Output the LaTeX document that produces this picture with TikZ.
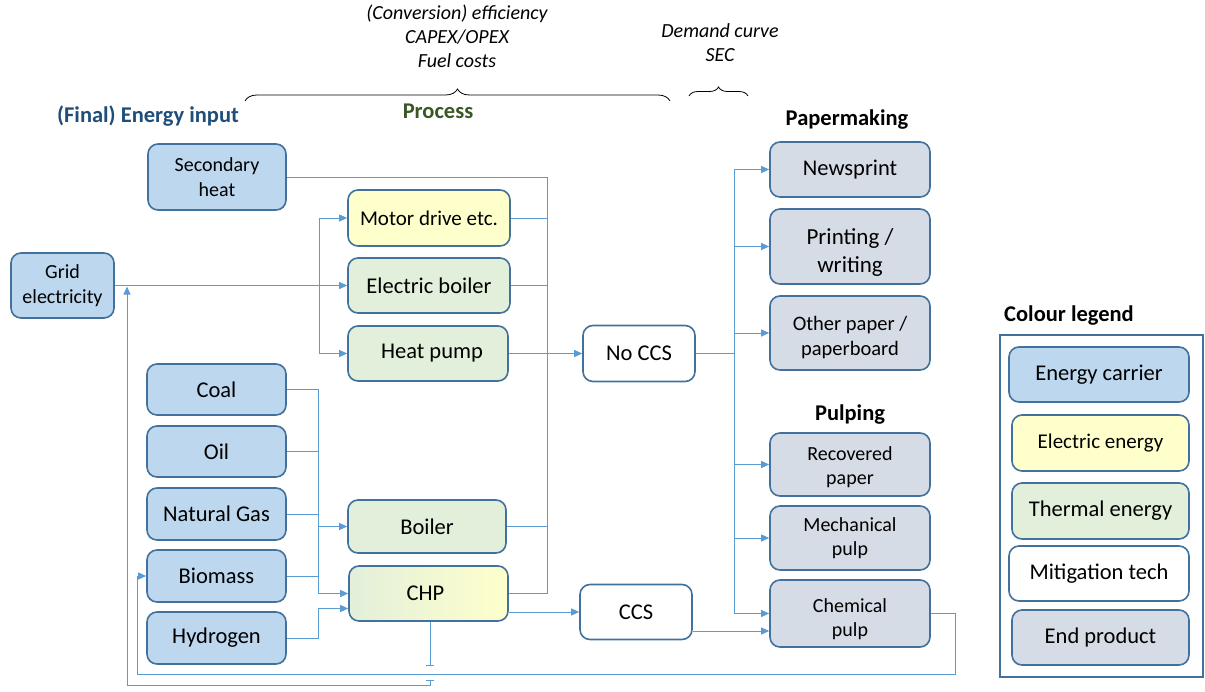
\documentclass[tikz,border=0pt]{standalone}
\usepackage{fontspec}
\setmainfont{Carlito}
\usetikzlibrary{arrows.meta,decorations.pathreplacing}

\definecolor{carrier}{HTML}{BDD7EE}
\definecolor{elec}{HTML}{FFFFCC}
\definecolor{therm}{HTML}{E2EFDA}
\definecolor{prod}{HTML}{D6DCE5}
\definecolor{edge}{HTML}{41719C}
\definecolor{flow}{HTML}{5B9BD5}
\definecolor{inputhd}{HTML}{1F4E79}
\definecolor{prochd}{HTML}{385723}

% strut that lowers the first line of a two-line label
\newcommand{\lowerby}[1]{\rule{0pt}{#1pt}}

\tikzset{
  box/.style={draw=edge, line width=1.6pt, rounded corners=10pt, align=center, inner sep=0pt},
  sz/.style 2 args={minimum width=#1pt, minimum height=#2pt},
  fbig/.style={font=\fontsize{22.5}{27}\selectfont},
  fmid/.style={font=\fontsize{21}{25}\selectfont},
  fsmall/.style={font=\fontsize{20}{24.5}\selectfont},
  carrierbox/.style={box, fill=carrier},
  elecbox/.style={box, fill=elec},
  thermbox/.style={box, fill=therm},
  mitbox/.style={box, fill=white},
  prodbox/.style={box, fill=prod},
  flowline/.style={draw=flow, line width=1pt},
  arr/.style={flowline, -{Triangle[length=8pt,width=7pt]}},
  heading/.style={font=\fontsize{22.5}{26}\selectfont\bfseries},
  note/.style={font=\fontsize{20}{24}\selectfont\itshape, align=center},
  bracket/.style={draw=black, line width=0.8pt, decorate}
}

\begin{document}
\begin{tikzpicture}[x=1pt, y=-1pt]
\useasboundingbox (0,0) rectangle (1205,691);

% headings and annotations
\node[heading, text=inputhd] (hinput) at (148,116) {(Final) Energy input};
\node[heading, text=prochd] (hproc) at (438,111) {Process};
\node[heading] (hpaper) at (847,120) {Papermaking};
\node[heading] (hpulp) at (850,415) {Pulping};
\node[heading] (hlegend) at (1069,316) {Colour legend};

\node[note] (metrics) at (457,36) {(Conversion) efficiency\\CAPEX/OPEX\\Fuel costs};
\node[note] (demand) at (720,43) {Demand curve\\SEC};
\draw[bracket, decoration={brace, amplitude=12pt}] (245,101) -- (670,101);
\draw[bracket, decoration={brace, amplitude=9pt}] (689,96) -- (748,96);

% energy carriers
\node[carrierbox, sz={138}{66}, fsmall] (sec) at (217,177) {Secondary\\heat};
\node[carrierbox, sz={103}{65}, fsmall] (grid) at (62.5,285.5) {Grid\\electricity};
\node[carrierbox, sz={139}{51}, fbig] (coal) at (216.5,389.5) {Coal};
\node[carrierbox, sz={139}{51}, fbig] (oil) at (216.5,451.5) {Oil};
\node[carrierbox, sz={139}{52}, fbig] (ng) at (216.5,514) {Natural Gas};
\node[carrierbox, sz={139}{52}, fbig] (bio) at (216.5,576) {Biomass};
\node[carrierbox, sz={139}{52}, fbig] (h2) at (216.5,638) {Hydrogen};

% conversion processes
\node[elecbox, sz={162}{56}, fmid] (motor) at (429,218) {Motor drive etc.};
\node[thermbox, sz={162}{55}, fbig] (eboil) at (429,285.5) {Electric boiler};
\node[thermbox, sz={160}{55}, fbig] (hp) at (428,353.5) {\hspace*{8pt}Heat pump};
\node[thermbox, sz={158}{53}, fbig] (boiler) at (427,526.5) {Boiler};
\node[box, left color=therm, right color=elec, sz={159}{55}, fbig] (chp) at (428.5,593.5) {CHP\hspace*{6pt}};

% mitigation
\node[mitbox, sz={112}{56}, fbig] (noccs) at (639,353.5) {No CCS};
\node[mitbox, sz={112}{55}, fbig] (ccs) at (636,612) {CCS};

% end products
\node[prodbox, sz={160}{55}, fbig] (news) at (850,169.5) {Newsprint};
\node[prodbox, sz={160}{75}, font=\fontsize{23}{28}\selectfont] (print) at (850,246.5) {\lowerby{27}Printing /\\writing};
\node[prodbox, sz={160}{74}, font=\fontsize{20.5}{25}\selectfont] (other) at (850,333) {\lowerby{23.5}Other paper /\\paperboard};
\node[prodbox, sz={160}{63}, fsmall] (recov) at (850,464.5) {\lowerby{19.5}Recovered\\paper};
\node[prodbox, sz={160}{64}, fsmall] (mech) at (850,538) {Mechanical\\pulp};
\node[prodbox, sz={160}{67}, fsmall] (chem) at (850,613.5) {\lowerby{25}Chemical\\pulp};

% legend
\draw[draw=edge, line width=1.3pt] (1000,335) rectangle (1203,677);
\node[carrierbox, sz={180}{55}, fbig] (lcarrier) at (1099,374.5) {Energy carrier};
\node[elecbox, sz={177}{56}, fmid] (lelec) at (1100.5,443) {Electric energy};
\node[thermbox, sz={177}{56}, fbig] (ltherm) at (1100.5,511) {Thermal energy};
\node[mitbox, sz={180}{55}, fbig] (lmit) at (1099,573.5) {Mitigation tech};
\node[prodbox, sz={177}{55}, fbig] (lprod) at (1100.5,637.5) {End product};

% junction points
\coordinate (hbus) at (547,178);
\coordinate (gsplit) at (319,285.5);
\coordinate (fbus) at (318,390);
\coordinate (pbus) at (734,353.5);
\coordinate (chplow) at ([yshift=-15pt]chp.west);
\coordinate (chemlow) at ([yshift=-17.5pt]chem.west);
\coordinate (loopR) at (955,674);
\coordinate (loopL) at (137,674);
\coordinate (jumpA) at (430,666);
\coordinate (jumpB) at (430,680);
\coordinate (backL) at (127,685);
\coordinate (gridfeed) at (127,286.5);

% heat collection bus
\draw[flowline] (sec.east) -- (sec.east -| hbus) -- (hbus |- chp.east) -- (chp.east);
\draw[flowline] (motor.east) -- (motor.east -| hbus);
\draw[flowline] (eboil.east) -- (eboil.east -| hbus);
\draw[flowline] (boiler.east) -- (boiler.east -| hbus);
\draw[arr] (hp.east) -- (noccs.west);
\draw[arr] (chp.east |- ccs.west) -- (ccs.west);

% grid electricity
\draw[arr] (grid.east) -- (eboil.west);
\draw[arr] (gsplit) |- (motor.west);
\draw[arr] (gsplit) |- (hp.west);

% fuels
\draw[flowline] (coal.east) -- (coal.east -| fbus) -- (fbus |- chp.west);
\draw[flowline] (oil.east) -- (oil.east -| fbus);
\draw[flowline] (ng.east) -- (ng.east -| fbus);
\draw[flowline] (bio.east) -- (bio.east -| fbus);
\draw[arr] (fbus |- boiler.west) -- (boiler.west);
\draw[arr] (fbus |- chp.west) -- (chp.west);
\draw[arr] (h2.east) -- (h2.east -| fbus) |- (chplow);

% distribution to products
\draw[flowline] (noccs.east) -- (pbus);
\draw[flowline] (pbus |- news.west) -- (pbus |- chem.west);
\draw[arr] (pbus |- news.west) -- (news.west);
\draw[arr] (pbus |- print.west) -- (print.west);
\draw[arr] (pbus |- other.west) -- (other.west);
\draw[arr] (pbus |- recov.west) -- (recov.west);
\draw[arr] (pbus |- mech.west) -- (mech.west);
\draw[arr] (pbus |- chem.west) -- (chem.west);
\draw[arr] (ccs.east |- chemlow) -- (chemlow);

% black liquor back to biomass
\draw[arr] (chem.east) -| (loopR) -- (loopL) |- (bio.west);

% CHP electricity back to the grid
\draw[flowline, -{Bar[width=8pt]}] (jumpA |- chp.south) -- (jumpA);
\draw[flowline, {Bar[width=8pt]}-{Triangle[length=8pt,width=7pt]}] (jumpB) |- (backL) -- (gridfeed);
\end{tikzpicture}
\end{document}
